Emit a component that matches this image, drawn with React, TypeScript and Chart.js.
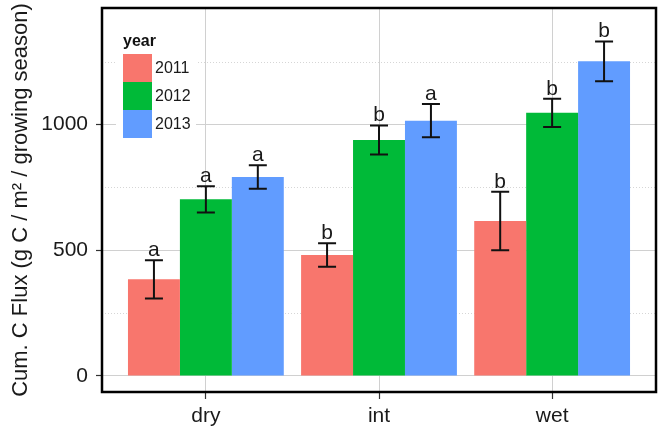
import React, { useEffect, useRef } from 'react';
import { Chart, registerables } from 'chart.js';

Chart.register(...registerables);

const categories = ['dry', 'int', 'wet'];
const years = ['2011', '2012', '2013'];
const colors = ['#F8766D', '#00BA38', '#619CFF'];
const flux2011 = [384, 481, 616];
const flux2012 = [702, 938, 1046];
const flux2013 = [791, 1015, 1251];
const err2011 = [76, 47, 116];
const err2012 = [52, 58, 56];
const err2013 = [47, 66, 79];
const letters2011 = ['a', 'b', 'b'];
const letters2012 = ['a', 'b', 'b'];
const letters2013 = ['a', 'a', 'b'];
const majorTicks = [0, 500, 1000];
const minorTicks = [250, 750, 1250];
const yTitle = 'Cum. C Flux (g C / m² / growing season)';
const legendTitle = 'year';

const FONT = "'Liberation Sans', Arial, Helvetica, sans-serif";

const allValues = [flux2011, flux2012, flux2013];
const allErrors = [err2011, err2012, err2013];
const allLetters = [letters2011, letters2012, letters2013];

const overlayPlugin = {
  id: 'overlay',
  beforeDatasetsDraw(chart: any) {
    const { ctx, chartArea } = chart;
    const y = chart.scales.y;
    ctx.save();
    ctx.strokeStyle = '#d6d6d6';
    ctx.lineWidth = 1;
    ctx.setLineDash([1, 2]);
    minorTicks.forEach((v) => {
      const py = Math.round(y.getPixelForValue(v)) + 0.5;
      ctx.beginPath();
      ctx.moveTo(chartArea.left, py);
      ctx.lineTo(chartArea.right, py);
      ctx.stroke();
    });
    ctx.restore();
  },
  afterDatasetsDraw(chart: any) {
    const { ctx } = chart;
    const y = chart.scales.y;
    ctx.save();
    allValues.forEach((vals, di) => {
      const meta = chart.getDatasetMeta(di);
      vals.forEach((v, i) => {
        const bar = meta.data[i];
        const cx = bar.x;
        const hi = y.getPixelForValue(v + allErrors[di][i]);
        const lo = y.getPixelForValue(v - allErrors[di][i]);
        ctx.strokeStyle = '#111';
        ctx.lineWidth = 2;
        ctx.setLineDash([]);
        ctx.beginPath();
        ctx.moveTo(cx, hi);
        ctx.lineTo(cx, lo);
        ctx.moveTo(cx - 9, hi);
        ctx.lineTo(cx + 9, hi);
        ctx.moveTo(cx - 9, lo);
        ctx.lineTo(cx + 9, lo);
        ctx.stroke();
        ctx.fillStyle = '#1a1a1a';
        ctx.font = `21px ${FONT}`;
        ctx.textAlign = 'center';
        ctx.textBaseline = 'alphabetic';
        ctx.fillText(allLetters[di][i], cx, hi - 4);
      });
    });
    ctx.fillStyle = '#ffffff';
    ctx.fillRect(116, 28, 80, 118);
    ctx.fillStyle = '#111';
    ctx.font = `bold 16px ${FONT}`;
    ctx.textAlign = 'left';
    ctx.textBaseline = 'alphabetic';
    ctx.fillText(legendTitle, 123, 46);
    years.forEach((yr, i) => {
      const ky = 54 + i * 28;
      ctx.fillStyle = colors[i];
      ctx.fillRect(123, ky, 29, 28);
      ctx.fillStyle = '#1a1a1a';
      ctx.font = `16px ${FONT}`;
      ctx.textBaseline = 'middle';
      ctx.fillText(yr, 155, ky + 15);
    });
    ctx.restore();
  },
  afterDraw(chart: any) {
    const { ctx, chartArea } = chart;
    ctx.save();
    ctx.strokeStyle = '#000';
    ctx.lineWidth = 2.5;
    ctx.strokeRect(chartArea.left, chartArea.top, chartArea.right - chartArea.left, chartArea.bottom - chartArea.top);
    ctx.restore();
  },
};

export default function App() {
  const ref = useRef<HTMLCanvasElement | null>(null);
  useEffect(() => {
    if (!ref.current) return;
    const datasets = allValues.map((vals, di) => ({
      label: years[di],
      data: vals.map((v, i) => ({ x: i + 1, y: v })),
      backgroundColor: colors[di],
      borderWidth: 0,
      categoryPercentage: 0.9,
      barPercentage: 1.0,
    }));
    const chart = new Chart(ref.current, {
      type: 'bar',
      data: { datasets },
      options: {
        animation: false,
        responsive: false,
        devicePixelRatio: 1,
        layout: { padding: { top: 8, right: 8, left: 0, bottom: 0 } },
        plugins: { legend: { display: false }, tooltip: { enabled: false } },
        scales: {
          x: {
            type: 'linear',
            min: 0.4,
            max: 3.6,
            offset: false,
            afterBuildTicks: (scale: any) => {
              scale.ticks = categories.map((_, i) => ({ value: i + 1 }));
            },
            afterFit: (scale: any) => {
              scale.height = 40;
              scale.paddingLeft = 0;
              scale.paddingRight = 0;
            },
            ticks: {
              callback: (v: any) => categories[Math.round(v) - 1] ?? '',
              font: { size: 21, family: FONT },
              color: '#1a1a1a',
              padding: 5,
              maxRotation: 0,
              autoSkip: false,
            },
            grid: {
              offset: false,
              color: '#d0d0d0',
              lineWidth: 1,
              tickColor: '#333',
              tickLength: 7,
              tickWidth: 1.2,
            },
            border: { display: false },
          },
          y: {
            type: 'linear',
            min: -64,
            max: 1463,
            afterBuildTicks: (scale: any) => {
              scale.ticks = majorTicks.map((v) => ({ value: v }));
            },
            afterFit: (scale: any) => {
              scale.width = 102;
              scale.paddingTop = 0;
              scale.paddingBottom = 0;
            },
            ticks: {
              callback: (v: any) => String(v),
              font: { size: 21, family: FONT },
              color: '#1a1a1a',
              padding: 8,
            },
            grid: {
              color: '#d0d0d0',
              lineWidth: 1,
              tickColor: '#333',
              tickLength: 6,
              tickWidth: 1.2,
            },
            border: { display: false },
            title: {
              display: true,
              text: yTitle,
              font: { size: 22, family: FONT },
              color: '#1a1a1a',
              padding: { top: 8, bottom: 0 },
            },
          },
        },
      },
      plugins: [overlayPlugin],
    } as any);
    return () => chart.destroy();
  }, []);
  return (
    <div style={{ position: 'absolute', left: 0, top: 0, width: 664, height: 432, background: '#fff' }}>
      <canvas ref={ref} width={664} height={432} />
    </div>
  );
}
